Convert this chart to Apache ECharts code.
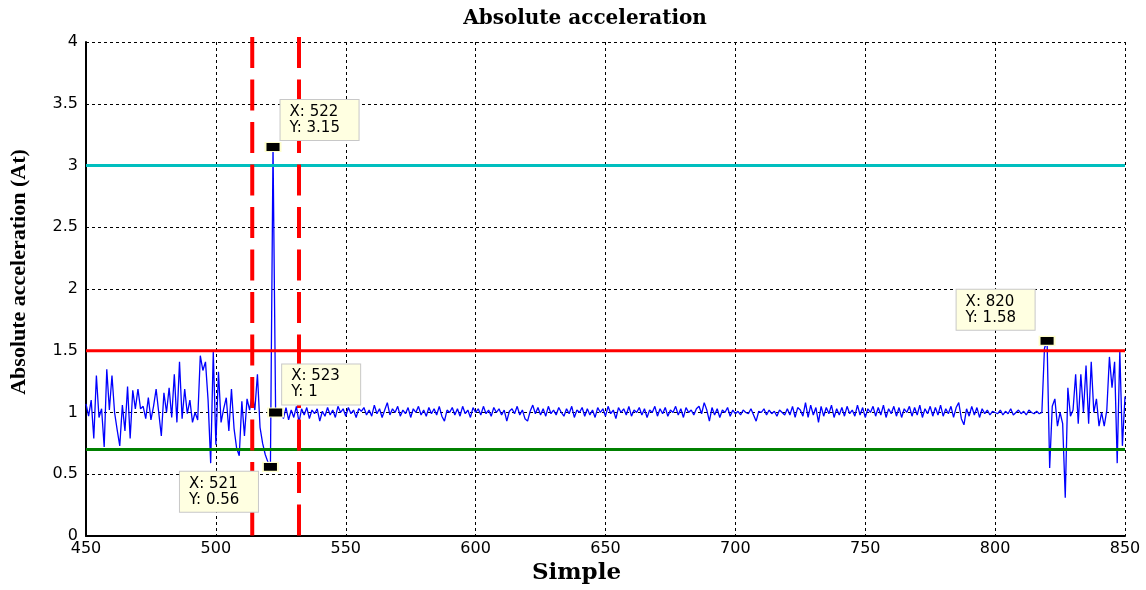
<!DOCTYPE html>
<html>
<head>
<meta charset="utf-8">
<title>Absolute acceleration</title>
<script src="https://cdn.jsdelivr.net/npm/echarts@6/dist/echarts.min.js"></script>
<style>
  html, body { margin: 0; padding: 0; background: #ffffff; }
  #chart { width: 1146px; height: 590px; }
</style>
</head>
<body>
<div id="chart"></div>
<script>
// Sample index of the first value below; one value per sample.
const firstSample = 450;

// Absolute acceleration, samples 450..523 (disturbed start and the event)
const accelLead = [
  1.07, 0.97, 1.10, 0.79, 1.30, 0.96, 1.03, 0.72, 1.35, 1.02, 1.30, 1.00, 0.86, 0.73, 1.06, 0.85, 1.21, 0.79, 1.18, 1.03,
  1.19, 1.03, 1.05, 0.95, 1.12, 0.94, 1.05, 1.19, 1.00, 0.81, 1.16, 1.00, 1.20, 0.96, 1.31, 0.92, 1.41, 0.95, 1.19, 0.99,
  1.10, 0.92, 1.00, 0.94, 1.46, 1.34, 1.41, 1.10, 0.59, 1.49, 0.74, 1.33, 0.92, 1.03, 1.12, 0.85, 1.19, 0.87, 0.71, 0.65,
  1.09, 0.81, 1.11, 1.02, 1.15, 1.02, 1.31, 0.88, 0.75, 0.66, 0.60, 0.56, 3.15, 1.00
];

// Absolute acceleration, samples 524..818 (steady travel)
const accelSteady = [
  0.97, 1.03, 0.95, 1.04, 0.94, 1.02, 0.96, 1.05, 0.92, 1.03, 0.98, 1.04, 0.95, 1.02, 0.99, 1.03, 0.93, 1.01, 0.97, 1.04,
  0.98, 1.02, 0.96, 1.05, 1.00, 1.03, 0.97, 1.04, 0.99, 1.02, 0.96, 1.03, 1.01, 1.04, 0.98, 1.02, 0.97, 1.06, 0.99, 1.03,
  0.96, 1.02, 1.08, 0.98, 1.03, 1.00, 1.05, 0.97, 1.02, 0.99, 1.04, 0.96, 1.03, 1.00, 1.05, 0.98, 1.02, 0.97, 1.04, 0.99,
  1.03, 0.98, 1.05, 0.97, 0.93, 1.02, 1.00, 1.04, 0.98, 1.03, 0.97, 1.05, 0.99, 1.02, 0.96, 1.04, 1.00, 1.03, 0.98, 1.05,
  0.99, 1.02, 0.97, 1.04, 1.00, 1.03, 0.98, 1.02, 0.93, 1.01, 1.03, 0.99, 1.05, 0.98, 1.02, 0.95, 0.93, 1.01, 1.06, 0.99,
  1.04, 0.98, 1.03, 0.97, 1.05, 0.99, 1.02, 0.98, 1.04, 1.00, 0.97, 1.03, 0.99, 1.05, 0.96, 1.02, 1.00, 1.04, 0.97, 1.03,
  0.98, 1.02, 0.96, 1.04, 1.00, 1.03, 0.97, 1.05, 0.99, 1.02, 0.95, 1.04, 1.00, 1.03, 0.98, 1.05, 0.97, 1.02, 1.00, 1.04,
  0.98, 1.03, 0.96, 1.02, 1.00, 1.05, 0.97, 1.03, 0.99, 1.04, 0.97, 1.02, 1.00, 1.05, 0.98, 1.03, 0.96, 1.04, 1.00, 1.02,
  0.98, 1.03, 1.05, 0.99, 1.08, 1.02, 0.93, 1.04, 0.98, 1.03, 0.96, 1.02, 1.00, 1.04, 0.97, 1.02, 0.99, 1.01, 0.98, 1.02,
  1.00, 0.99, 1.03, 0.98, 0.93, 1.01, 1.00, 1.03, 0.98, 1.02, 0.99, 1.01, 0.97, 1.02, 1.00, 0.98,
  1.03, 0.98, 1.05, 0.96, 1.04, 1.02, 0.97, 1.08, 0.96, 1.06, 0.98, 1.04, 0.92, 1.05, 0.97, 1.04, 0.99, 1.06, 0.96, 1.03,
  0.98, 1.04, 0.97, 1.05, 0.99, 1.02, 0.97, 1.06, 0.98, 1.04, 0.96, 1.03, 1.00, 1.05, 0.97, 1.04, 0.98, 1.06, 0.96, 1.03,
  0.99, 1.05, 0.97, 1.04, 0.96, 1.03, 1.00, 1.05, 0.97, 1.04, 0.98, 1.06, 0.96, 1.03, 0.99, 1.05, 0.97, 1.04, 0.98, 1.06,
  0.97, 1.03, 0.99, 1.05, 0.96, 1.04, 1.08, 0.95, 0.90, 1.03, 0.97, 1.05, 0.98, 1.04, 0.96, 1.03, 0.99, 1.02, 0.98, 1.01,
  1.00, 0.99, 1.02, 0.98, 1.01, 0.99, 1.03, 0.98, 1.00, 1.02, 0.99, 1.01, 0.98, 1.02, 1.00, 0.99, 1.01, 0.99, 1.00
];

// Absolute acceleration, samples 819..850 (disturbed end)
const accelTail = [
  1.52, 1.58, 0.55, 1.05, 1.11, 0.89, 1.00, 0.91, 0.31, 1.20, 0.97, 1.02, 1.31, 0.91, 1.31, 1.00,
  1.38, 0.91, 1.41, 1.00, 1.11, 0.89, 1.00, 0.89, 1.02, 1.45, 1.20, 1.41, 0.59, 1.50, 0.73, 1.13
];

// Horizontal reference levels
const upperLimit = 3;
const alarmLevel = 1.5;
const lowerLimit = 0.7;

// Sample bounds of the marked event window
const eventWindow = [514, 532];

// Samples that carry a data tip
const tipSamples = [522, 523, 521, 820];

// Axis extents and tick steps
const xRange = [450, 850];
const xStep = 50;
const yRange = [0, 4];
const yStep = 0.5;

const accel = accelLead.concat(accelSteady, accelTail);
const accelPoints = accel.map((v, i) => [firstSample + i, v]);
const valueAt = (s) => accel[s - firstSample];
const fmt = (v) => String(Math.round(v * 100) / 100);

// Tip box: fixed content width so both lines stay left-aligned inside it
const tipTextWidth = 60;
const tipPadX = 9;
const tipBoxWidth = tipTextWidth + 2 * tipPadX;

// Where each tip box sits relative to its marker's top-left corner
const tipPlacement = {
  522: { position: [16, -2], verticalAlign: 'bottom' },
  523: { position: [15, -3], verticalAlign: 'bottom' },
  521: { position: [-4 - tipBoxWidth, 10], verticalAlign: 'top' },
  820: { position: [-4 - tipBoxWidth, -6], verticalAlign: 'bottom' }
};

const hLine = (name, level, color) => ({
  name: name,
  type: 'line',
  data: [[xRange[0], level], [xRange[1], level]],
  showSymbol: false,
  silent: true,
  z: 3,
  lineStyle: { color: color, width: 3 }
});

const vLine = (name, sample) => ({
  name: name,
  type: 'line',
  data: [[sample, yRange[1] + 0.04], [sample, yRange[0] - 0.03]],
  showSymbol: false,
  silent: true,
  clip: false,
  z: 4,
  lineStyle: { color: '#ff0000', width: 4, type: [31, 11.5] }
});

const chart = echarts.init(document.getElementById('chart'));

const option = {
  animation: false,
  backgroundColor: '#ffffff',
  title: {
    text: 'Absolute acceleration',
    left: 580,
    textAlign: 'center',
    top: 4,
    textStyle: { fontFamily: 'DejaVu Serif', fontWeight: 'bold', fontSize: 20, color: '#000000' }
  },
  grid: { left: 85, right: 21, top: 42, bottom: 54 },
  xAxis: {
    type: 'value',
    min: xRange[0],
    max: xRange[1],
    interval: xStep,
    name: 'Simple',
    nameLocation: 'middle',
    nameGap: 25,
    nameTextStyle: {
      fontFamily: 'DejaVu Serif', fontWeight: 'bold', fontSize: 23, color: '#000000',
      padding: [0, 58, 0, 0]
    },
    axisLine: { show: true, onZero: false, lineStyle: { color: '#000000', width: 2 } },
    axisTick: { show: false },
    axisLabel: { color: '#000000', fontFamily: 'DejaVu Sans', fontSize: 16, margin: 5 },
    splitLine: { show: true, lineStyle: { color: '#000000', width: 1, type: [3, 3] } }
  },
  yAxis: {
    type: 'value',
    min: yRange[0],
    max: yRange[1],
    interval: yStep,
    name: 'Absolute acceleration (At)',
    nameLocation: 'middle',
    nameRotate: 90,
    nameGap: 56,
    nameTextStyle: {
      fontFamily: 'Liberation Serif', fontWeight: 'bold', fontSize: 22, color: '#000000',
      padding: [0, 0, 0, 34]
    },
    axisLine: { show: true, lineStyle: { color: '#000000', width: 2 } },
    axisTick: { show: false },
    axisLabel: { color: '#000000', fontFamily: 'DejaVu Sans', fontSize: 16, margin: 8 },
    splitLine: { show: true, lineStyle: { color: '#000000', width: 1, type: [3, 3] } }
  },
  series: [
    {
      name: 'Absolute acceleration',
      type: 'line',
      data: accelPoints,
      showSymbol: false,
      silent: true,
      z: 2,
      lineStyle: { color: '#0000ff', width: 1.3 }
    },
    hLine('Upper limit', upperLimit, '#00bfbf'),
    hLine('Alarm level', alarmLevel, '#ff0000'),
    hLine('Lower limit', lowerLimit, '#008000'),
    vLine('Event start', eventWindow[0]),
    vLine('Event end', eventWindow[1]),
    {
      name: 'Data tips',
      type: 'scatter',
      silent: true,
      z: 10,
      symbol: 'rect',
      symbolSize: [15, 9],
      itemStyle: { color: '#000000', borderColor: '#ffffcc', borderWidth: 1.5, opacity: 1 },
      label: {
        show: true,
        formatter: (p) => 'X: ' + p.value[0] + '\nY: ' + fmt(p.value[1]),
        color: '#000000',
        fontFamily: 'DejaVu Sans',
        fontSize: 15,
        lineHeight: 16,
        align: 'left',
        width: tipTextWidth,
        backgroundColor: '#ffffe1',
        borderColor: '#c8c8c8',
        borderWidth: 1,
        padding: [4, tipPadX, 4, tipPadX]
      },
      data: tipSamples.map((s) => ({
        value: [s, valueAt(s)],
        label: tipPlacement[s]
      }))
    }
  ]
};

chart.setOption(option);
</script>
</body>
</html>
